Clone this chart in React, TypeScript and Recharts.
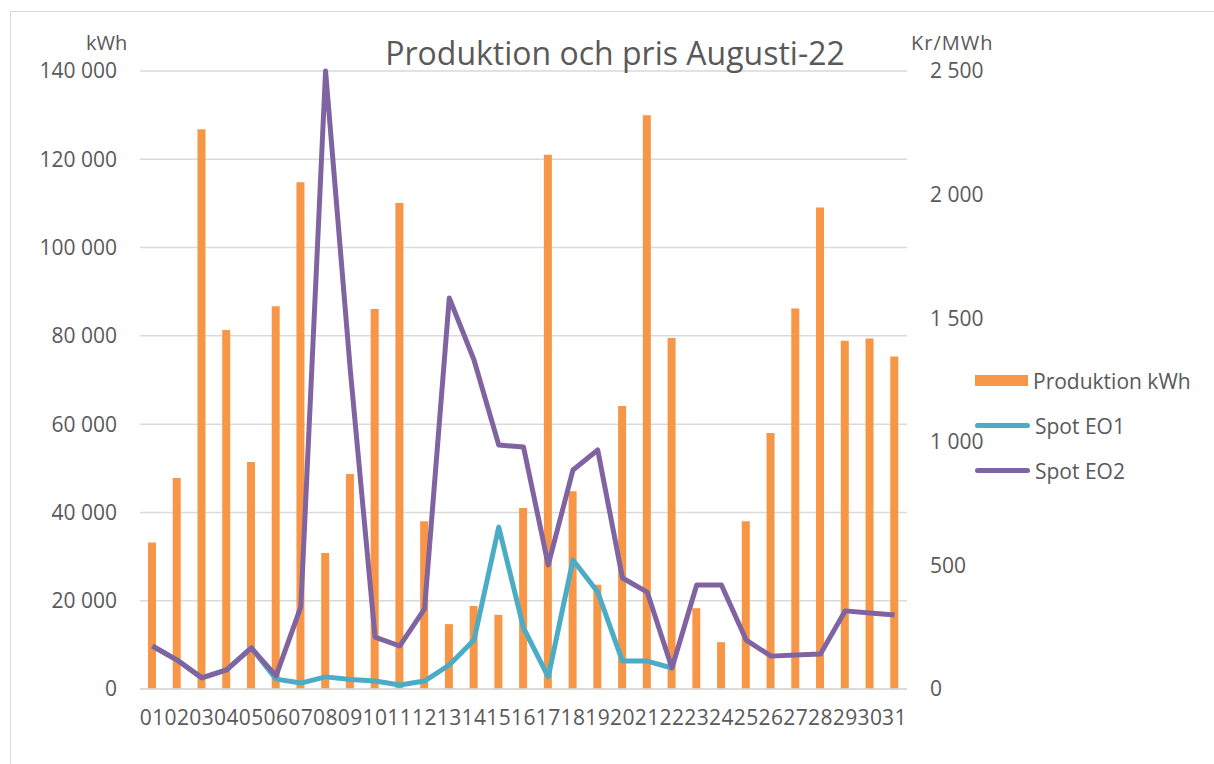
import { ComposedChart, Bar, Line, XAxis, YAxis, CartesianGrid } from "recharts";

const days = ["01","02","03","04","05","06","07","08","09","10","11","12","13","14","15","16","17","18","19","20","21","22","23","24","25","26","27","28","29","30","31"];

const produktion = [33200, 47800, 126800, 81300, 51400, 86700, 114800, 30800, 48700, 86100, 110100, 38000, 14700, 18800, 16800, 41000, 121000, 44800, 23600, 64100, 130000, 79500, 18300, 10600, 38000, 58000, 86200, 109100, 78900, 79400, 75300];

const spotEO1 = [174, 117, 45, 77, 166, 40, 24, 49, 38, 32, 16, 32, 97, 198, 655, 247, 49, 522, 392, 113, 113, 85, null, null, null, null, null, null, null, null, null];

const spotEO2 = [174, 117, 45, 77, 166, 53, 332, 2500, 1290, 210, 174, 324, 1582, 1331, 987, 979, 502, 886, 967, 449, 392, 85, 421, 421, 198, 133, 138, 142, 316, 307, 299];

const leftTicks = [0, 20000, 40000, 60000, 80000, 100000, 120000, 140000];
const rightTicks = [0, 500, 1000, 1500, 2000, 2500];

const data = days.map((d, i) => ({
  day: d,
  prod: produktion[i],
  eo1: spotEO1[i],
  eo2: spotEO2[i],
}));

const fmt = (v: number) => String(v).replace(/\B(?=(\d{3})+(?!\d))/g, " ");

const textColor = "#595959";
const font = "'Open Sans', sans-serif";

function LegendBox() {
  const row = { display: "flex", alignItems: "center", height: 45 } as const;
  const label = { fontSize: 21, color: textColor, marginLeft: 5, fontFamily: font } as const;
  return (
    <div style={{ position: "absolute", left: 975, top: 358, width: 235 }}>
      <div style={row}>
        <div style={{ width: 53, height: 11, background: "#F79646" }} />
        <span style={label}>Produktion kWh</span>
      </div>
      <div style={row}>
        <div style={{ width: 55, height: 5, borderRadius: 3, background: "#4BACC6" }} />
        <span style={label}>Spot EO1</span>
      </div>
      <div style={row}>
        <div style={{ width: 55, height: 5, borderRadius: 3, background: "#8064A2" }} />
        <span style={label}>Spot EO2</span>
      </div>
    </div>
  );
}

export default function App() {
  return (
    <div style={{ position: "absolute", left: 0, top: 0, width: 1214, height: 764, background: "#fff", overflow: "hidden", fontFamily: font }}>
      <div style={{ position: "absolute", left: 10, top: 11, width: 1220, height: 780, border: "1px solid #d9d9d9" }} />
      <div style={{ position: "absolute", left: 0, top: 0 }}>
        <ComposedChart width={1214} height={764} data={data} margin={{ top: 71, right: 0, bottom: 35, left: 0 }}>
          <CartesianGrid yAxisId="left" vertical={false} stroke="#d9d9d9" strokeWidth={1.5} />
          <XAxis
            dataKey="day"
            height={40}
            interval={0}
            tickLine={false}
            tickSize={0}
            tickMargin={21}
            axisLine={{ stroke: "#d9d9d9", strokeWidth: 1.5 }}
            tick={{ fill: textColor, fontSize: 21, fontFamily: font, letterSpacing: 0.5 }}
          />
          <YAxis
            yAxisId="left"
            width={140}
            domain={[0, 140000]}
            ticks={leftTicks}
            tickFormatter={fmt}
            axisLine={false}
            tickLine={false}
            tickSize={0}
            tickMargin={23}
            tick={{ fill: textColor, fontSize: 21, fontFamily: font }}
          />
          <YAxis
            yAxisId="right"
            orientation="right"
            width={307}
            domain={[0, 2500]}
            ticks={rightTicks}
            tickFormatter={fmt}
            axisLine={false}
            tickLine={false}
            tickSize={0}
            tickMargin={23}
            tick={{ fill: textColor, fontSize: 21, fontFamily: font }}
          />
          <Bar yAxisId="left" dataKey="prod" name="Produktion kWh" fill="#F79646" barSize={8} isAnimationActive={false} />
          <Line yAxisId="right" dataKey="eo1" name="Spot EO1" stroke="#4BACC6" strokeWidth={5} strokeLinejoin="round" dot={false} isAnimationActive={false} />
          <Line yAxisId="right" dataKey="eo2" name="Spot EO2" stroke="#8064A2" strokeWidth={5} strokeLinejoin="round" dot={false} isAnimationActive={false} />
        </ComposedChart>
      </div>
      <div style={{ position: "absolute", left: 0, width: 1230, top: 31, textAlign: "center", fontSize: 32, color: textColor }}>
        Produktion och pris Augusti-22
      </div>
      <div style={{ position: "absolute", left: 86, top: 30, fontSize: 20, color: textColor, lineHeight: "26px" }}>kWh</div>
      <div style={{ position: "absolute", left: 911, top: 30, fontSize: 20, color: textColor, letterSpacing: 1, lineHeight: "26px" }}>Kr/MWh</div>
      <LegendBox />
    </div>
  );
}
